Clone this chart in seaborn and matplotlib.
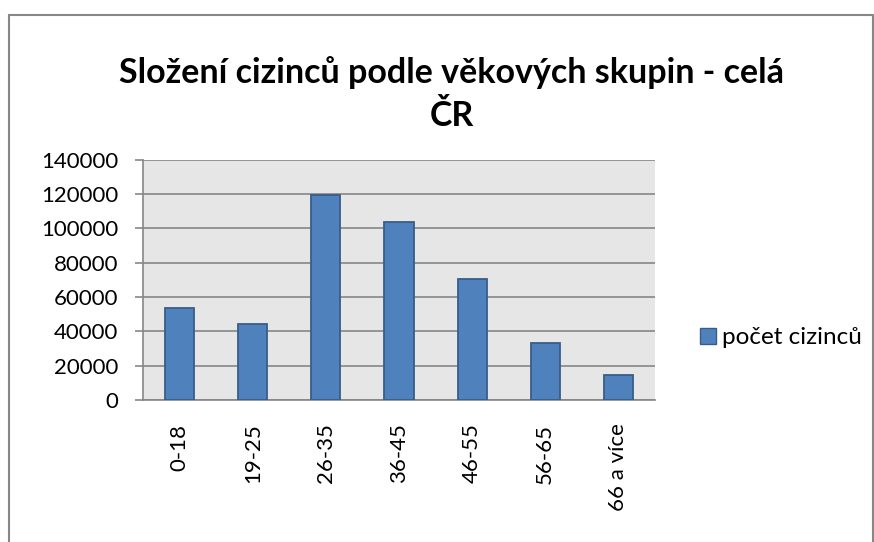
import pandas as pd
import numpy as np
import seaborn as sns
import matplotlib.pyplot as plt
from matplotlib.lines import Line2D
from matplotlib.patches import Patch

# Data
kategorie = ['0-18', '19-25', '26-35', '36-45', '46-55', '56-65', '66 a více']
pocet = [53700, 44500, 119400, 103400, 70600, 32900, 14800]
y_ticks = [0, 20000, 40000, 60000, 80000, 100000, 120000, 140000]

df = pd.DataFrame({'vek': kategorie, 'pocet cizincu': pocet})

sns.set_style('white')
plt.rcParams['font.family'] = ['Lato', 'DejaVu Sans']
plt.rcParams['text.color'] = 'black'
plt.rcParams['xtick.labelcolor'] = 'black'
plt.rcParams['ytick.labelcolor'] = 'black'

fig = plt.figure(figsize=(8.74, 5.42), dpi=100)
ax = fig.add_axes([143 / 874, 1 - 400 / 542, 512 / 874, 240.5 / 542])

sns.barplot(data=df, x='vek', y='pocet cizincu', color='#4F81BD',
            edgecolor='#385D8A', linewidth=1.3, width=0.4, saturation=1,
            ax=ax, zorder=3)

ax.set_facecolor('#E6E6E6')
ax.set_ylim(0, 140000)
ax.set_xlim(-0.5, len(kategorie) - 0.5)
ax.set_yticks(y_ticks)
ax.set_yticklabels([str(v) for v in y_ticks], fontsize=16)
ax.yaxis.grid(True, color='#868686', linewidth=1.2, zorder=0)
ax.set_axisbelow(True)
ax.set_xlabel('')
ax.set_ylabel('')

# category labels rotated, tick marks between categories
ax.set_xticks(range(len(kategorie)))
ax.set_xticklabels(kategorie, rotation=90, fontsize=16, va='top')
ax.tick_params(axis='x', which='major', length=0, pad=17)
ax.set_xticks(np.arange(-0.5, len(kategorie)), minor=True)
ax.tick_params(axis='x', which='minor', length=5.8, width=1.2, color='#868686', direction='out')
ax.tick_params(axis='y', length=5.8, width=1.2, color='#868686', direction='out', pad=12, left=True)

for s in ['top', 'right']:
    ax.spines[s].set_visible(False)
for s in ['left', 'bottom']:
    ax.spines[s].set_color('#868686')
    ax.spines[s].set_linewidth(1.2)

fig.text(451.5 / 874, 1 - 94 / 542, 'Složení cizinců podle věkových skupin - celá\nČR',
         ha='center', va='center', fontsize=24.5, fontweight='bold', linespacing=1.4,
         color='black')

handle = Patch(facecolor='#4F81BD', edgecolor='#385D8A', linewidth=1.0)
fig.legend([handle], ['počet cizinců'], loc='center left',
           bbox_to_anchor=(678 / 874, 1 - 338 / 542), frameon=False,
           fontsize=17.5, handlelength=0.65, handleheight=0.65, handletextpad=0.25)

# outer chart frame
frame = dict(color='#878787', linewidth=1.5)
fig.add_artist(Line2D([8.5 / 874, 8.5 / 874], [0, 1 - 15 / 542], **frame))
fig.add_artist(Line2D([8.5 / 874, 873 / 874], [1 - 15 / 542, 1 - 15 / 542], **frame))
fig.add_artist(Line2D([873 / 874, 873 / 874], [0, 1 - 15 / 542], **frame))

fig.savefig('out.png', dpi=100)
